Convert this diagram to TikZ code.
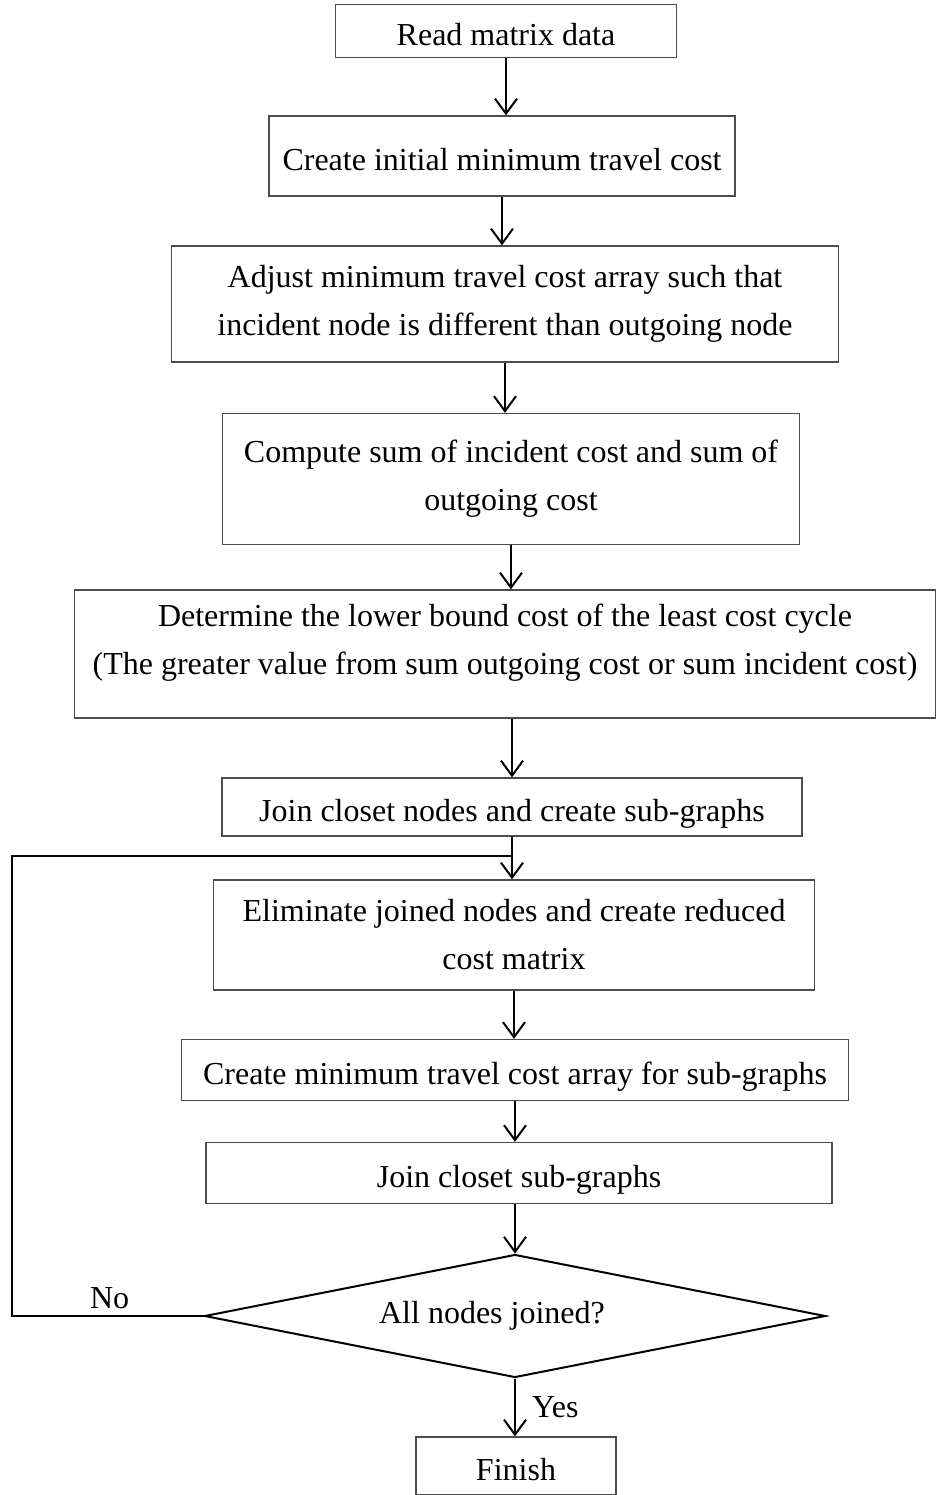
\documentclass[tikz,border=0pt]{standalone}
\usepackage{fontspec}
\setmainfont{Liberation Serif}
\usetikzlibrary{shapes.geometric,arrows.meta}

\begin{document}
\begin{tikzpicture}[x=1pt, y=-1pt, >={Straight Barb[length=15pt,width=22pt,line width=2pt]},
  font=\fontsize{32}{48}\selectfont]
  \tikzset{box/.style={draw=black!70, line width=1.3pt, align=center, inner sep=0pt},
    onebox/.style={box, text height=31pt, text depth=2pt},
    link/.style={->, line width=2pt},
    check/.style={diamond, draw, line width=2pt, aspect=5, inner sep=0pt}}
  \useasboundingbox (0,0) rectangle (936,1495);

  \node[onebox, minimum width=341pt, minimum height=53pt] (read) at (506,31) {Read matrix data};
  \node[onebox, minimum width=466pt, minimum height=80pt] (init) at (502,156) {Create initial minimum travel cost};
  \node[box, minimum width=667pt, minimum height=116pt] (adjust) at (505,304)
    {Adjust minimum travel cost array such that\\incident node is different than outgoing node};
  \node[box, minimum width=577pt, minimum height=131pt] (sums) at (511,479)
    {Compute sum of incident cost and sum of\\outgoing cost};
  \node[box, minimum width=861pt, minimum height=128pt, text depth=29pt] (bound) at (505,654)
    {Determine the lower bound cost of the least cost cycle\\(The greater value from sum outgoing cost or sum incident cost)};
  \node[onebox, minimum width=580pt, minimum height=58pt] (join) at (512,807) {Join closet nodes and create sub-graphs};
  \node[box, minimum width=601pt, minimum height=110pt] (elim) at (514,935)
    {Eliminate joined nodes and create reduced\\cost matrix};
  \node[onebox, minimum width=667pt, minimum height=61pt] (subarr) at (515,1070) {Create minimum travel cost array for sub-graphs};
  \node[onebox, minimum width=626pt, minimum height=61pt] (joinsub) at (519,1173) {Join closet sub-graphs};
  \node[check, minimum width=621pt, minimum height=123pt] (done) at (515,1316) {All nodes joined?\kern46pt};
  \node[onebox, minimum width=200pt, minimum height=58pt] (finish) at (516,1466) {Finish};

  \coordinate (back) at (513,856);

  \draw[link] (read.south) -- (read.south |- init.north);
  \draw[link] (init.south) -- (init.south |- adjust.north);
  \draw[link] (adjust.south) -- (adjust.south |- sums.north);
  \draw[link] (sums.south) -- (sums.south |- bound.north);
  \draw[link] (bound.south -| join.north) -- (join.north);
  \draw[link] (join.south) -- (join.south |- elim.north);
  \draw[link] (elim.south) -- (elim.south |- subarr.north);
  \draw[link] (subarr.south) -- (subarr.south |- joinsub.north);
  \draw[link] (joinsub.south -| done.north) -- (done.north);
  \draw[link] (done.south) -- node[right=16pt, inner sep=0pt] (yes) {Yes} (done.south |- finish.north);
  % loop back when not all joined
  \draw[line width=2pt] (done.west) -- node[above=6pt, inner sep=0pt, pos=0.49] (no) {No} (12,1316) |- (back);
\end{tikzpicture}
\end{document}
